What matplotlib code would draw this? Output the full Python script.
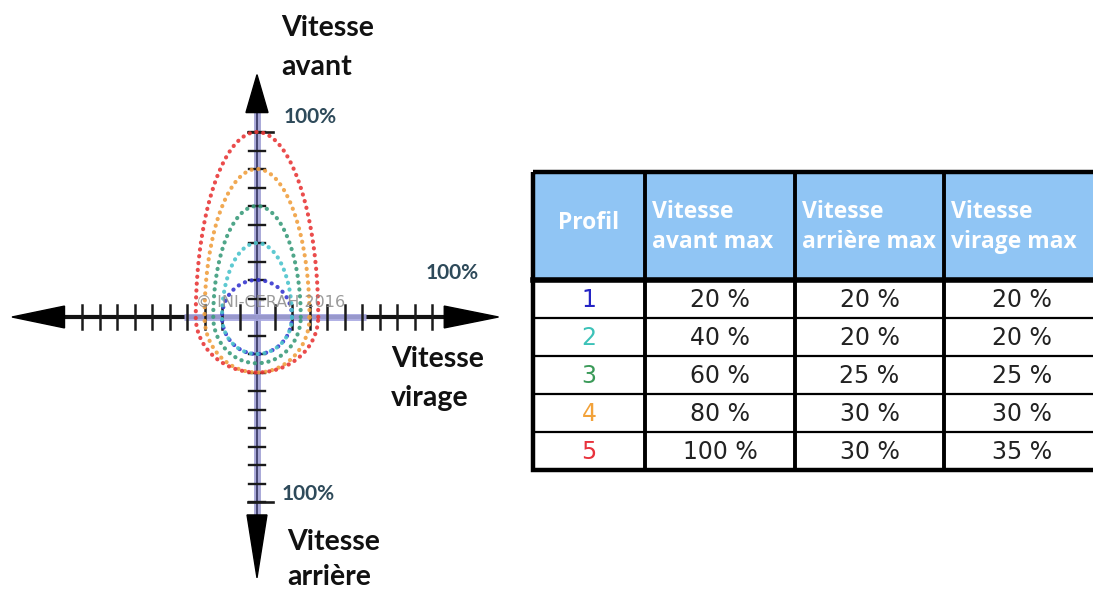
import numpy as np
import matplotlib
matplotlib.use("Agg")
import matplotlib.pyplot as plt
from matplotlib.patches import Rectangle, Polygon

# ---------------- data ----------------
profils = ['1', '2', '3', '4', '5']
avant_max = [20, 40, 60, 80, 100]      # % forward speed
arriere_max = [20, 20, 25, 30, 30]     # % reverse speed
virage_max = [20, 20, 25, 30, 35]      # % turning speed
profil_colors = ['#2424c4', '#3cc2b8', '#3a9a58', '#f2a23a', '#e8323c']
ellipse_colors = ['#3838d0', '#4cc4cc', '#3c9c7c', '#f0a040', '#e83838']
headers = ['Profil', 'Vitesse\navant max', 'Vitesse\narrière max', 'Vitesse\nvirage max']
tick_pcts = list(range(10, 101, 10))
axis_labels = ['Vitesse\navant', 'Vitesse\nvirage', 'Vitesse\narrière']
hundred = '100%'
watermark = '© INI-CERAH 2016'

W, H = 1093, 591
fig = plt.figure(figsize=(W / 100, H / 100), dpi=100)
fig.patch.set_facecolor('white')

# ---------------- diagram axes ----------------
ox, oy = 257, 317          # origin in pixels
sx, sy = 1.75, 1.85        # pixels per percent
ax = fig.add_axes([0, 0, 520 / W, 1])
ax.set_xlim(-ox / sx, (520 - ox) / sx)
ax.set_ylim(-(H - oy) / sy, oy / sy)
ax.axis('off')

# axis lines
ax.plot([0, 0], [-112, 115], color='#9a9ad2', lw=5, alpha=0.85, zorder=1, solid_capstyle='butt')
ax.plot([0, 0], [-112, 115], color='#34345e', lw=1.2, zorder=2)
ax.plot([-112, 112], [0, 0], color='#111111', lw=3, zorder=1)
ax.plot([-42, 62], [0, 0], color='#a8a8e2', lw=5, alpha=0.9, zorder=2, solid_capstyle='butt')

# ticks
for p in tick_pcts:
    for s in (1, -1):
        ax.plot([-4.6, 4.6], [s * p, s * p], color='#1a1a1a', lw=1.7, zorder=3)
        ax.plot([s * p, s * p], [-6.5, 6.5], color='#1a1a1a', lw=1.8, zorder=3)
ax.plot([-5, 9], [tick_pcts[-1], tick_pcts[-1]], color='#1a1a1a', lw=1.9, zorder=3)
ax.plot([-5, 9], [-tick_pcts[-1], -tick_pcts[-1]], color='#1a1a1a', lw=1.9, zorder=3)

# arrows
ax.add_patch(Polygon([[-6.3, 110.5], [6.3, 110.5], [0, 131]], closed=True, color='black', zorder=4))
ax.add_patch(Polygon([[-5.7, -107], [5.7, -107], [0, -141]], closed=True, color='black', zorder=4))
ax.add_patch(Polygon([[-110, -5.9], [-110, 5.9], [-140, 0]], closed=True, color='black', zorder=4))
ax.add_patch(Polygon([[107, -5.9], [107, 5.9], [138, 0]], closed=True, color='black', zorder=4))

# profile "ellipses" (top half = forward, bottom half = reverse, width = turning)
t = np.linspace(0, np.pi, 240)
for a, r, v, c in zip(avant_max, arriere_max, virage_max, ellipse_colors):
    xs = np.concatenate([v * np.cos(t), -v * np.cos(t)])
    ys = np.concatenate([a * np.sin(t), -r * np.sin(t)])
    ax.plot(xs, ys, color=c, lw=3.0, linestyle=(0, (0.05, 1.6)),
            dash_capstyle='round', zorder=5, alpha=0.9)

# ---------------- overlay (pixel coordinates) ----------------
ov = fig.add_axes([0, 0, 1, 1])
ov.set_xlim(0, W)
ov.set_ylim(H, 0)
ov.axis('off')
ov.patch.set_alpha(0)

lab_kw = dict(family='Lato', fontweight='bold', fontsize=20.5, color='#111111',
              ha='left', va='top', linespacing=1.62)
ov.text(281, 15, axis_labels[0], **lab_kw)
ov.text(391, 346, axis_labels[1], **lab_kw)
ov.text(287, 529, axis_labels[2], family='Lato', fontweight='bold', fontsize=20.5,
        color='#111111', ha='left', va='top', linespacing=1.42)

h_kw = dict(family='Lato', fontweight='bold', fontsize=15, color='#2e4a5a',
            ha='left', va='center')
ov.text(284, 117, hundred, **h_kw)
ov.text(426, 273, hundred, **h_kw)
ov.text(282, 494, hundred, **h_kw)

ov.text(196, 302, watermark, family='DejaVu Sans', fontsize=11.5, color='#8a8a8a',
        alpha=0.85, ha='left', va='center', zorder=10)

# ---------------- table ----------------
col_edges = [533, 645, 795, 944, 1100]
row_edges = [172, 280, 318, 356, 394, 432, 470]
header_bg = '#90c5f4'

ov.add_patch(Rectangle((col_edges[0], row_edges[0]), col_edges[-1] - col_edges[0],
                       row_edges[1] - row_edges[0], facecolor=header_bg, edgecolor='none', zorder=1))
ov.add_patch(Rectangle((col_edges[0], row_edges[1]), col_edges[-1] - col_edges[0],
                       row_edges[-1] - row_edges[1], facecolor='white', edgecolor='none', zorder=1))
for x in col_edges[1:-1]:
    ov.plot([x, x], [row_edges[0], row_edges[-1]], color='black', lw=2.8, zorder=3)
for y in row_edges[2:-1]:
    ov.plot([col_edges[0], col_edges[-1]], [y, y], color='black', lw=1.6, zorder=3)
ov.plot([col_edges[0], col_edges[-1]], [row_edges[1], row_edges[1]], color='black', lw=4, zorder=3)
ov.add_patch(Rectangle((col_edges[0], row_edges[0]), col_edges[-1] - col_edges[0],
                       row_edges[-1] - row_edges[0], facecolor='none', edgecolor='black',
                       lw=3.2, zorder=4))

hy = (row_edges[0] + row_edges[1]) / 2
ov.text((col_edges[0] + col_edges[1]) / 2, hy - 3, headers[0], family='Open Sans',
        fontweight='bold', fontsize=16.5, color='white', ha='center', va='center', zorder=5)
for j in range(1, 4):
    ov.text(col_edges[j] + 7, hy + 1, headers[j], family='Open Sans', fontweight='bold',
            fontsize=16.5, color='white', ha='left', va='center', linespacing=1.32, zorder=5)

cell_kw = dict(family='DejaVu Sans', fontsize=17, ha='center', va='center', zorder=5)
for i in range(len(profils)):
    yc = (row_edges[i + 1] + row_edges[i + 2]) / 2 + 1
    ov.text((col_edges[0] + col_edges[1]) / 2, yc, profils[i], color=profil_colors[i], **cell_kw)
    vals = [avant_max[i], arriere_max[i], virage_max[i]]
    for j, v in enumerate(vals):
        ov.text((col_edges[j + 1] + col_edges[j + 2]) / 2, yc, f'{v} %', color='#222222', **cell_kw)

fig.savefig('out.png', dpi=100, facecolor='white')
